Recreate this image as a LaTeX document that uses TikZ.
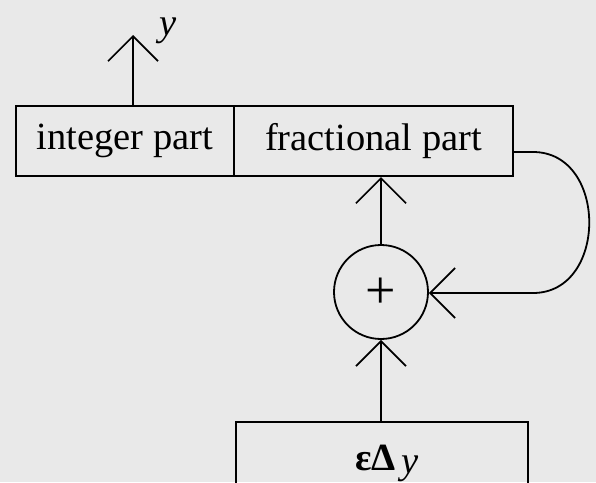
\documentclass[tikz,border=0pt]{standalone}
\usepackage{fontspec}
\setmainfont{Liberation Serif}
\usetikzlibrary{arrows.meta}
\definecolor{bg}{RGB}{233,233,233}
\begin{document}
\begin{tikzpicture}[x=1pt,y=-1pt,line width=2.1pt,
  lbl/.style={font=\fontsize{38.5}{40}\selectfont},
  box/.style={draw, rectangle, inner sep=0pt, lbl},
  sig/.style={-{Straight Barb[length=25pt,width=50pt,line width=1.7pt]}}]
\fill[bg] (0,0) rectangle (596,482);
\useasboundingbox (0,0) rectangle (596,482);
\clip (0,0) rectangle (596,482);
\node[box, minimum width=218pt, minimum height=70pt] (int) at (125,141) {integer part};
\node[box, minimum width=279pt, minimum height=70pt] (frac) at (373.5,141) {fractional part};
\node[draw, circle, minimum size=94pt, inner sep=0pt, line width=1.8pt] (sum) at (381,292) {};
\node[font=\fontsize{54}{54}\selectfont, inner sep=0pt] (plus) at (381,293) {+};
\node[box, minimum width=292pt, minimum height=120pt, anchor=north] (eps) at (382,421) {};
\node[lbl, anchor=base] (epstxt) at (387,470) {\bfseries εΔ\kern6pt{\mdseries\itshape\raisebox{-3pt}{y}}};
\coordinate (yout) at (133,35);
\draw[sig] (yout |- int.north) -- (yout);
\node[lbl, anchor=base] (ylab) at (168,35) {\itshape y};
\draw[sig] (sum.north) -- (sum.north |- frac.south);
\draw[sig] (sum.south |- eps.north) -- (sum.south);
\coordinate (fb1) at (533,152);
\coordinate (fb2) at (533,293);
\draw[sig, line width=1.8pt] (frac.east |- fb1) -- (fb1) .. controls (608,152) and (608,293) .. (fb2) -- (sum.east |- fb2);
\end{tikzpicture}
\end{document}
